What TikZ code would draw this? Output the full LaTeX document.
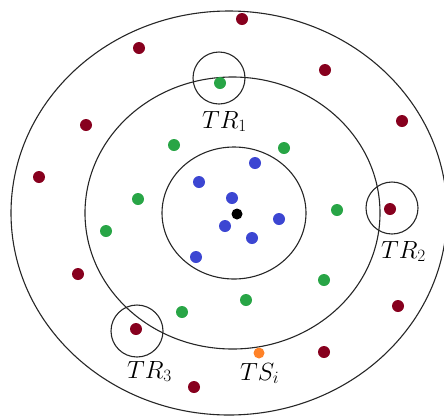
\documentclass[tikz,border=0pt]{standalone}
\usepackage{fontspec}
\definecolor{dred}{RGB}{135,0,30}
\definecolor{dgreen}{RGB}{40,165,70}
\definecolor{dblue}{RGB}{60,70,210}
\definecolor{dorange}{RGB}{255,130,40}
\begin{document}
\begin{tikzpicture}[x=1pt,y=-1pt,
  ring/.style={draw=black!85,line width=1.1pt},
  dot/.style={circle,inner sep=0pt,minimum size=12pt,fill=#1},
  trcircle/.style={circle,draw=black!85,line width=1.1pt,minimum size=52pt,inner sep=0pt},
  lbl/.style={anchor=base west,inner sep=0pt,font=\fontsize{26}{26}\selectfont}]
\useasboundingbox (0,0) rectangle (444,416);
\coordinate (c0) at (229,213);
\coordinate (c1) at (232.5,213);
\coordinate (c2) at (234,213);
\draw[ring] (c0) ellipse [x radius=218pt, y radius=202pt];
\draw[ring] (c1) ellipse [x radius=147.5pt, y radius=136pt];
\draw[ring] (c2) ellipse [x radius=72pt, y radius=66pt];
% dark red
\node[dot=dred] (r1) at (242,19) {};
\node[dot=dred] (r2) at (139,48) {};
\node[dot=dred] (r3) at (325,70) {};
\node[dot=dred] (r4) at (86,125) {};
\node[dot=dred] (r5) at (402,121) {};
\node[dot=dred] (r6) at (39,177) {};
\node[dot=dred] (r7) at (390,209) {};
\node[dot=dred] (r8) at (78,274) {};
\node[dot=dred] (r9) at (398,306) {};
\node[dot=dred] (r10) at (136,329) {};
\node[dot=dred] (r11) at (324,352) {};
\node[dot=dred] (r12) at (194,387) {};
% green
\node[dot=dgreen] (g1) at (220,83) {};
\node[dot=dgreen] (g2) at (174,145) {};
\node[dot=dgreen] (g3) at (284,148) {};
\node[dot=dgreen] (g4) at (138,199) {};
\node[dot=dgreen] (g5) at (106,231) {};
\node[dot=dgreen] (g6) at (337,210) {};
\node[dot=dgreen] (g7) at (324,280) {};
\node[dot=dgreen] (g8) at (246,300) {};
\node[dot=dgreen] (g9) at (182,312) {};
% blue
\node[dot=dblue] (b1) at (255,163) {};
\node[dot=dblue] (b2) at (199,182) {};
\node[dot=dblue] (b3) at (232,198) {};
\node[dot=dblue] (b4) at (279,219) {};
\node[dot=dblue] (b5) at (225,226) {};
\node[dot=dblue] (b6) at (252,238) {};
\node[dot=dblue] (b7) at (196,257) {};
% centre and source
\node[dot=black,minimum size=11pt] (bs) at (237,214) {};
\node[dot=dorange,minimum size=11pt] (ts) at (259,353) {};
% TR circles
\node[trcircle] (tr1) at (219,78) {};
\node[trcircle] (tr2) at (392,208) {};
\node[trcircle] (tr3) at (137,331) {};
% labels
\node[lbl] (l1) at (202,128) {$TR_1$};
\node[lbl] (l2) at (381,258) {$TR_2$};
\node[lbl] (l3) at (127,378) {$TR_3$};
\node[lbl] (l4) at (240,380) {$TS_i$};
\end{tikzpicture}
\end{document}
